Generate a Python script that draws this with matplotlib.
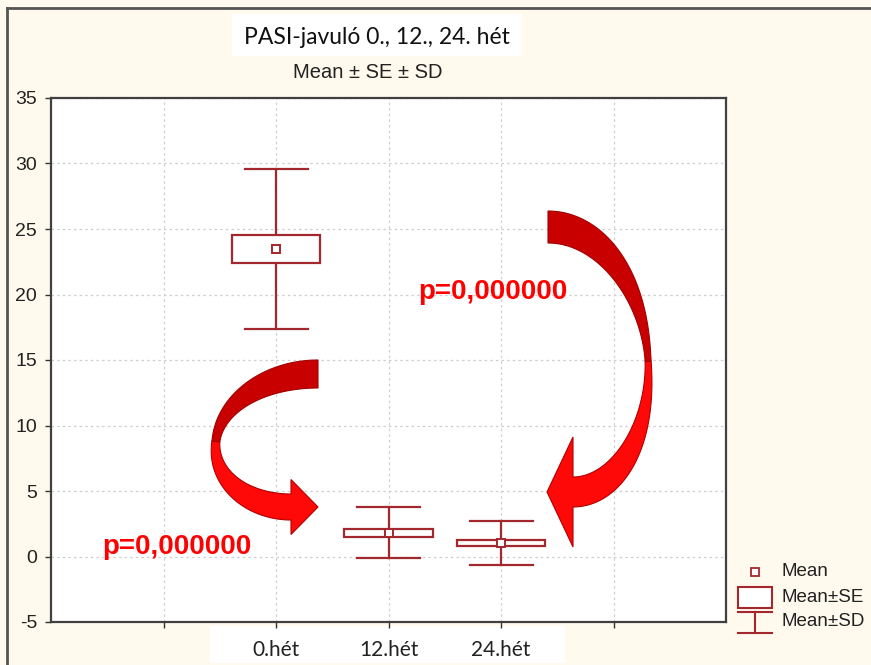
import numpy as np
import matplotlib
matplotlib.use("Agg")
import matplotlib.pyplot as plt
from matplotlib.patches import Rectangle, Polygon
from matplotlib.lines import Line2D
from matplotlib.transforms import Affine2D

# ---------------- data ----------------
categories = ['0.hét', '12.hét', '24.hét']
means = [23.47, 1.82, 1.04]
se = [1.08, 0.30, 0.24]
sd = [6.08, 1.97, 1.70]
yticks = [-5, 0, 5, 10, 15, 20, 25, 30, 35]
title = 'PASI-javuló 0., 12., 24. hét'
subtitle = 'Mean ± SE ± SD'
p_texts = ['p=0,000000', 'p=0,000000']
legend_labels = ['Mean', 'Mean±SE', 'Mean±SD']

W, H = 871, 665
BG = '#FFF9EE'
DR = '#A3282D'
TXT = '#222222'

fig = plt.figure(figsize=(W / 100, H / 100), dpi=100, facecolor=BG)
pix = Affine2D().scale(1 / W, -1 / H).translate(0, 1) + fig.transFigure

L, R, T, B = 51, 726, 98, 622
ax = fig.add_axes([L / W, 1 - B / H, (R - L) / W, (B - T) / H])
ax.set_facecolor('white')

x = np.arange(len(categories)) + 2
box_w = 0.79
cap_w = 0.56
for xi, m, s, d in zip(x, means, se, sd):
    ax.plot([xi, xi], [m - d, m + d], color=DR, lw=1.6, zorder=3)
    ax.plot([xi - cap_w / 2, xi + cap_w / 2], [m + d, m + d], color=DR, lw=1.6, zorder=3)
    ax.plot([xi - cap_w / 2, xi + cap_w / 2], [m - d, m - d], color=DR, lw=1.6, zorder=3)
    ax.add_patch(Rectangle((xi - box_w / 2, m - s), box_w, 2 * s, facecolor='white',
                           edgecolor=DR, lw=1.6, zorder=4))
ax.plot(x, means, ls='none', marker='s', ms=6, mfc='white', mec=DR, mew=1.4, zorder=5)

ax.set_xlim(0, 6)
ax.set_ylim(-5, 35)
ax.set_yticks(yticks)
ax.set_yticklabels([str(v) for v in yticks], fontsize=14, color=TXT,
                   fontfamily='Liberation Sans')
ax.set_xticks(np.arange(1, 6))
ax.set_xticklabels(['' if i not in x else categories[list(x).index(i)] for i in range(1, 6)],
                   fontsize=15, color=TXT, fontfamily='Lato')
ax.tick_params(axis='both', direction='out', length=4, width=1, color='#333333')
ax.tick_params(axis='y', pad=6)
ax.tick_params(axis='x', pad=9)
ax.grid(True, color='#CFCFCF', lw=0.9, ls=(0, (2, 2.5)))
ax.set_axisbelow(True)
for sp in ax.spines.values():
    sp.set_color('#404040')
    sp.set_linewidth(1.6)

# ---------------- frame / background boxes ----------------
fig.add_artist(Line2D([7, W], [8, 8], transform=pix, color='#555555', lw=2))
fig.add_artist(Line2D([7, 7], [8, H], transform=pix, color='#555555', lw=2))
fig.add_artist(Rectangle((232, 14), 290, 42, transform=pix, facecolor='white',
                         edgecolor='none', zorder=-1))
fig.add_artist(Rectangle((210, 626), 355, 37, transform=pix, facecolor='white',
                         edgecolor='none', zorder=-1))

fig.text(377, 37, title, transform=pix, fontsize=16.5, fontfamily='Lato',
         color='#111111', ha='center', va='center')
fig.text(368, 72, subtitle, transform=pix, fontsize=14.5, fontfamily='Liberation Sans',
         color=TXT, ha='center', va='center')

# ---------------- legend ----------------
fig.add_artist(Rectangle((751, 568), 8, 8, transform=pix, facecolor='white',
                         edgecolor=DR, lw=1.3))
fig.add_artist(Rectangle((738, 587), 34, 21, transform=pix, facecolor='white',
                         edgecolor=DR, lw=1.5))
fig.add_artist(Line2D([738, 772], [612, 612], transform=pix, color=DR, lw=1.5))
fig.add_artist(Line2D([738, 772], [633, 633], transform=pix, color=DR, lw=1.5))
fig.add_artist(Line2D([755, 755], [612, 633], transform=pix, color=DR, lw=1.5))
for lab, yy in zip(legend_labels, [572, 597, 622]):
    fig.text(781, yy, lab, transform=pix, fontsize=13.5, fontfamily='Liberation Sans',
             color=TXT, ha='left', va='center')


# ---------------- curved arrows ----------------
def ribbon_arrow(p0, pm, p1, w0, wm, w1, head_half, head_len, n=120):
    th = np.linspace(0, np.pi, n)
    cx = p0[0] + (p1[0] - p0[0]) * th / np.pi
    cy = (p0[1] + p1[1]) / 2
    ry = (p1[1] - p0[1]) / 2
    rx = pm[0] - (p0[0] + p1[0]) / 2
    xs = cx + rx * np.sin(th)
    ys = cy - ry * np.cos(th)
    dx = (p1[0] - p0[0]) / np.pi + rx * np.cos(th)
    dy = ry * np.sin(th)
    nrm = np.hypot(dx, dy)
    tx, ty = dx / nrm, dy / nrm
    nx, ny = -ty, tx
    c = np.abs(np.cos(th)) ** 1.5
    w = np.where(th < np.pi / 2, wm + (w0 - wm) * c, wm + (w1 - wm) * c)
    ax_ = xs + nx * w / 2
    ay_ = ys + ny * w / 2
    bx_ = xs - nx * w / 2
    by_ = ys - ny * w / 2
    h = n // 2
    upper = np.vstack([np.c_[ax_[:h + 1], ay_[:h + 1]],
                       np.c_[bx_[:h + 1], by_[:h + 1]][::-1]])
    ex, ey = xs[-1], ys[-1]
    etx, ety, enx, eny = tx[-1], ty[-1], nx[-1], ny[-1]
    head = [(ex + enx * head_half, ey + eny * head_half),
            (ex + etx * head_len, ey + ety * head_len),
            (ex - enx * head_half, ey - eny * head_half)]
    lower = np.vstack([np.c_[ax_[h:], ay_[h:]], np.array(head),
                       np.c_[bx_[h:], by_[h:]][::-1]])
    return upper, lower


arrows = [
    dict(p0=(318, 374), pm=(216, 440), p1=(291, 507), w0=28, wm=8, w1=26,
         head_half=27.5, head_len=27),
    dict(p0=(548, 227), pm=(648, 360), p1=(573, 492), w0=32, wm=6, w1=30,
         head_half=55, head_len=26),
]
for a in arrows:
    up, lo = ribbon_arrow(**a)
    fig.add_artist(Polygon(lo, closed=True, transform=pix, facecolor='#FF0808',
                           edgecolor='#B00000', lw=0.8, zorder=6))
    fig.add_artist(Polygon(up, closed=True, transform=pix, facecolor='#C80000',
                           edgecolor='#A00000', lw=0.8, zorder=6))

for txt, (px, py) in zip(p_texts, [(493, 292), (177, 547)]):
    fig.text(px, py, txt, transform=pix, fontsize=20, fontweight='bold',
             fontfamily='Liberation Sans', color='#FF0000', ha='center', va='center',
             zorder=7)

fig.savefig('out.png', dpi=100, facecolor=BG)
